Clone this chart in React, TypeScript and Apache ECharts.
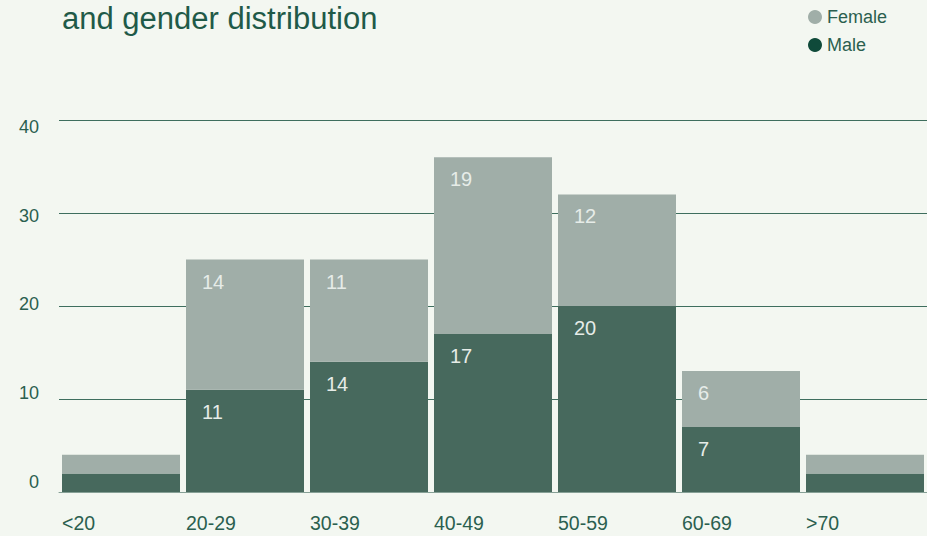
import React, { useEffect, useRef } from "react";
import * as echarts from "echarts";

const categories = ["<20", "20-29", "30-39", "40-49", "50-59", "60-69", ">70"];
const maleValues = [2, 11, 14, 17, 20, 7, 2];
const femaleValues = [2, 14, 11, 19, 12, 6, 2];
const yTicks = [0, 10, 20, 30, 40];

const FONT = "'Liberation Sans', Arial, Helvetica, sans-serif";
const TEXT = "#2b5f4f";
const BG = "#f3f7f1";

export default function App() {
  const ref = useRef<HTMLDivElement>(null);
  useEffect(() => {
    if (!ref.current) return;
    const chart = echarts.init(ref.current, null, { renderer: "svg" });
    const barLabel = {
      show: true,
      position: [16, 12],
      color: "#e6ece8",
      fontSize: 20,
      fontFamily: FONT,
      formatter: (p: any) => (p.value >= 3 ? String(p.value) : ""),
    };
    chart.setOption({
      animation: false,
      backgroundColor: BG,
      title: {
        text: "and gender distribution",
        left: 62,
        top: 3,
        padding: 0,
        textStyle: { color: "#1f5a48", fontSize: 31, fontWeight: "normal", fontFamily: FONT },
      },
      legend: {
        orient: "vertical",
        left: 803,
        top: 3,
        itemWidth: 14,
        itemHeight: 14,
        itemGap: 10,
        icon: "circle",
        textStyle: { color: TEXT, fontSize: 18, fontFamily: FONT },
        data: [
          { name: "Female", itemStyle: { color: "#a0aea8" } },
          { name: "Male", itemStyle: { color: "#0f4a3a" } },
        ],
      },
      grid: { left: 59, top: 120, width: 868, bottom: 44 },
      xAxis: {
        type: "category",
        data: categories,
        axisLine: { show: true, lineStyle: { color: "#86a096", width: 1 } },
        axisTick: { show: false },
        axisLabel: {
          interval: 0,
          margin: 21,
          width: 59,
          align: "right",
          formatter: (v: string) => `{a|${v}}`,
          rich: { a: { align: "left", color: TEXT, fontSize: 19.5, fontFamily: FONT } },
        },
      },
      yAxis: [
        {
          type: "value",
          min: 0,
          max: 40,
          interval: 10,
          axisLabel: { show: false },
          axisLine: { show: false },
          axisTick: { show: false },
          splitLine: {
            show: true,
            lineStyle: {
              color: ["rgba(0,0,0,0)", "#3e6e5e", "#3e6e5e", "#3e6e5e", "#3e6e5e"],
              width: 1,
            },
          },
        },
        {
          type: "value",
          position: "left",
          min: -1.127,
          max: 40.788,
          axisLine: { show: false },
          axisTick: { show: false },
          splitLine: { show: false },
          axisLabel: {
            customValues: yTicks,
            margin: 20,
            color: TEXT,
            fontSize: 18,
            fontFamily: FONT,
          },
        },
      ],
      series: [
        {
          name: "Male",
          type: "bar",
          stack: "total",
          barWidth: 118,
          data: maleValues,
          itemStyle: { color: "#47695d" },
          label: barLabel,
        },
        {
          name: "Female",
          type: "bar",
          stack: "total",
          barWidth: 118,
          data: femaleValues,
          itemStyle: { color: "#a0aea8" },
          label: barLabel,
        },
      ],
    });
    return () => chart.dispose();
  }, []);
  return (
    <div
      ref={ref}
      style={{ position: "fixed", left: 0, top: 0, width: 927, height: 536, background: BG }}
    />
  );
}
